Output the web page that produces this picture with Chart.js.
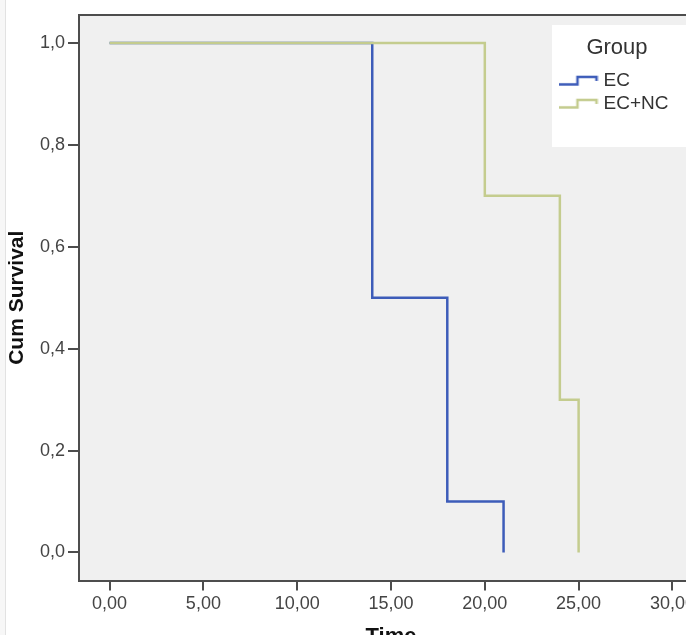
<!DOCTYPE html>
<html><head><meta charset="utf-8">
<script src="https://cdn.jsdelivr.net/npm/chart.js@4.4.1/dist/chart.umd.min.js"></script>
<style>
html,body{margin:0;padding:0;background:#fff;overflow:hidden;}
#wrap{position:relative;width:686px;height:635px;overflow:hidden;}
#c{position:absolute;left:0;top:0;}
#edge{position:absolute;left:0;top:0;width:5px;height:635px;background:#f7f7f7;border-right:1px solid #e2e2e2;}
</style></head><body>
<div id="wrap"><canvas id="c" width="720" height="670"></canvas><div id="edge"></div></div>
<script>
const groups = ['EC', 'EC+NC'];
const timesEC = [0, 14, 18, 21];
const survivalEC = [1.0, 0.5, 0.1, 0.0];
const timesECNC = [0, 20, 24, 25];
const survivalECNC = [1.0, 0.7, 0.3, 0.0];
const xTickValues = [0, 5, 10, 15, 20, 25, 30];
const xTickLabels = ['0,00', '5,00', '10,00', '15,00', '20,00', '25,00', '30,00'];
const yTickValues = [0, 0.2, 0.4, 0.6, 0.8, 1.0];
const yTickLabels = ['0,0', '0,2', '0,4', '0,6', '0,8', '1,0'];
const xAxisTitle = 'Time';
const yAxisTitle = 'Cum Survival';
const legendTitle = 'Group';

const colorEC = '#3d5cb9';
const colorECNC = '#c4cc8e';
const axisColor = '#4d4d4d';

Chart.defaults.font.family = "'Liberation Sans', Arial, sans-serif";

function stepIcon(color) {
  const c = document.createElement('canvas');
  c.width = 40; c.height = 12;
  const g = c.getContext('2d');
  g.strokeStyle = color; g.lineWidth = 2.5;
  g.beginPath();
  g.moveTo(0, 9.5); g.lineTo(19, 9.5); g.lineTo(19, 2); g.lineTo(38, 2); g.lineTo(38, 6);
  g.stroke();
  return c;
}
const icons = [stepIcon(colorEC), stepIcon(colorECNC)];

const toPoints = (xs, ys) => xs.map((x, i) => ({x: x, y: ys[i]}));

const decor = {
  id: 'decor',
  beforeDraw(chart) {
    const {ctx, chartArea: a} = chart;
    ctx.save();
    ctx.fillStyle = '#f0f0f0';
    ctx.fillRect(a.left, a.top, a.right - a.left, a.bottom - a.top);
    ctx.fillStyle = '#ffffff';
    ctx.fillRect(552, 25, 200, 122);
    ctx.strokeStyle = axisColor; ctx.lineWidth = 2;
    ctx.beginPath(); ctx.moveTo(a.left - 1, a.top); ctx.lineTo(a.right, a.top); ctx.stroke();
    ctx.restore();
  },
  afterLayout(chart) {
    const lg = chart.legend;
    if (lg) Object.assign(lg, {left: 559, top: 37, right: 675, bottom: 147, width: 116, height: 110});
  }
};

new Chart(document.getElementById('c'), {
  type: 'line',
  data: {
    datasets: [
      {label: groups[0], data: toPoints(timesEC, survivalEC), borderColor: colorEC, backgroundColor: colorEC,
       borderWidth: 2.5, stepped: true, pointRadius: 0, fill: false, order: 1},
      {label: groups[1], data: toPoints(timesECNC, survivalECNC), borderColor: colorECNC, backgroundColor: colorECNC,
       borderWidth: 2.5, stepped: true, pointRadius: 0, fill: false, order: 0}
    ]
  },
  options: {
    responsive: false,
    animation: false,
    events: [],
    layout: {padding: {left: 0, top: 15, right: 17, bottom: 0}},
    plugins: {
      tooltip: {enabled: false},
      legend: {
        display: true,
        position: 'chartArea',
        align: 'start',
        title: {display: true, text: legendTitle, color: '#333', font: {size: 22}, padding: {top: 0, bottom: 4}},
        labels: {
          usePointStyle: true,
          pointStyleWidth: 31,
          padding: 4,
          color: '#333',
          font: {size: 19},
          sort: (a, b) => a.datasetIndex - b.datasetIndex,
          generateLabels(chart) {
            const items = Chart.defaults.plugins.legend.labels.generateLabels(chart);
            items.forEach(it => { it.pointStyle = icons[it.datasetIndex]; it.lineWidth = 0; });
            return items;
          }
        }
      }
    },
    scales: {
      x: {
        type: 'linear',
        min: -1.63, max: 31.63,
        afterBuildTicks: s => { s.ticks = xTickValues.map(v => ({value: v})); },
        afterFit: s => { s.height = 89.5; },
        ticks: {callback: (v, i) => xTickLabels[i], font: {size: 18}, color: '#444', padding: 3, maxRotation: 0, autoSkip: false},
        grid: {display: true, drawOnChartArea: false, drawTicks: true, tickLength: 10, color: axisColor, lineWidth: 2},
        border: {display: true, color: axisColor, width: 2},
        title: {display: true, text: xAxisTitle, color: '#111', font: {size: 22, weight: 'bold'}, padding: {top: 0, bottom: 20}}
      },
      y: {
        type: 'linear',
        min: -0.055, max: 1.055,
        afterBuildTicks: s => { s.ticks = yTickValues.map(v => ({value: v})); },
        afterFit: s => { s.width = 79; },
        ticks: {callback: (v, i) => yTickLabels[i], font: {size: 18}, color: '#444', padding: 3, autoSkip: false},
        grid: {display: true, drawOnChartArea: false, drawTicks: true, tickLength: 11, color: axisColor, lineWidth: 2},
        border: {display: true, color: axisColor, width: 2},
        title: {display: true, text: yAxisTitle, color: '#111', font: {size: 21, weight: 'bold'}, padding: {top: 5, bottom: 0}}
      }
    }
  },
  plugins: [decor]
});
</script>
</body></html>
